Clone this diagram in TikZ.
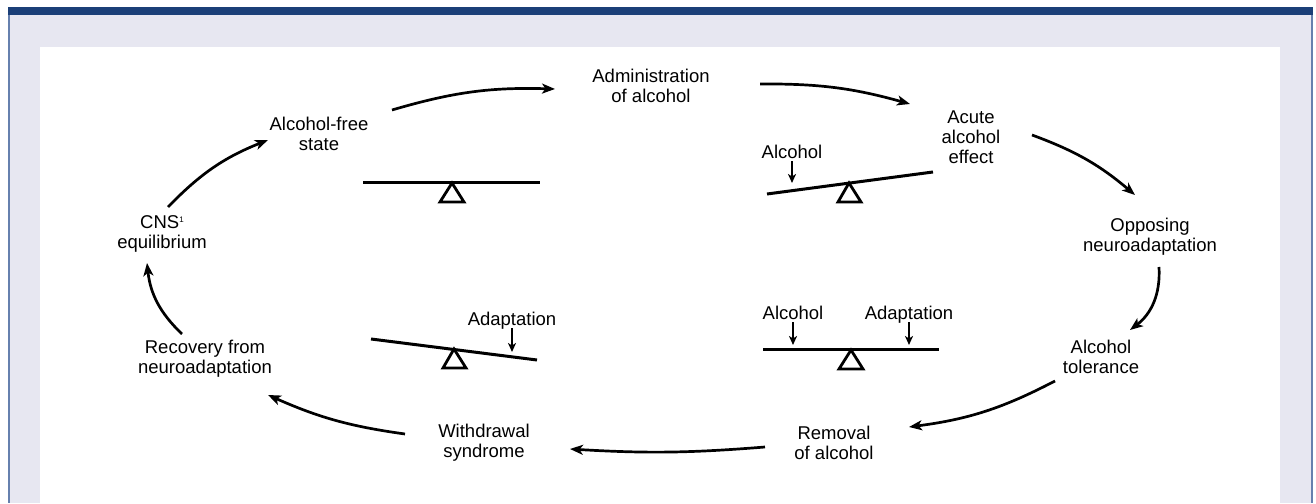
\documentclass[tikz,border=0pt]{standalone}
\usepackage{fontspec}
\setmainfont{Liberation Sans}
\usepackage{tikz}
\usetikzlibrary{arrows.meta, calc}

\definecolor{barblue}{HTML}{1B3F78}
\definecolor{edgeblue}{HTML}{6680AE}
\definecolor{panel}{HTML}{E7E7F1}

\begin{document}
\begin{tikzpicture}[x=10pt, y=10pt, font=\fontsize{18.5}{20}\selectfont]
        % Setup the styles for the texts, arrows and seesaws
        \tikzset{state text/.style={align=center,
                                    inner sep=2pt}}
        \tikzset{side label/.style={inner sep=2.5pt,
                                    text depth=0pt}}
        \tikzset{cycle arrow/.style={line width=2.7pt,
                                    -{Stealth[length=13pt, width=10pt, inset=3.5pt]}}}
        \tikzset{push arrow/.style={line width=2.4pt,
                                    -{Stealth[length=9pt, width=8pt, inset=2.5pt]}}}
        \tikzset{beam/.style={line width=3pt}}
        \tikzset{pivot/.style={line width=2.8pt,
                                    fill=white}}

        % Frame
        \useasboundingbox (0,0) rectangle (131.6,50.3);
        \fill[panel] (0.9,0) rectangle (131.1,48.8);
        \fill[white] (4.0,0) rectangle (128.0,45.6);
        \fill[barblue] (0.8,48.8) rectangle (131.3,49.6);
        \fill[edgeblue] (0.8,0) rectangle (0.95,48.8);
        \fill[edgeblue] (131.1,0) rectangle (131.3,48.8);

        % Draw the states
        \node[state text] at (31.9, 36.9) (free)     {Alcohol-free\\state};
        \node[state text] at (65.1, 41.7) (admin)    {Administration\\of alcohol};
        \node[state text] at (97.1, 36.6) (acute)    {Acute\\alcohol\\effect};
        \node[state text] at (115.0, 26.6) (oppose)  {Opposing\\neuroadaptation};
        \node[state text] at (110.1, 14.6) (tol)     {Alcohol\\tolerance};
        \node[state text] at (83.4, 6.0) (removal)   {Removal\\of alcohol};
        \node[state text] at (48.4, 6.0) (withdraw)  {Withdrawal\\syndrome};
        \node[state text] at (20.5, 14.4) (recovery) {Recovery from\\neuroadaptation};
        \node[state text] at (16.2, 26.9) (cns)      {CNS\raisebox{6pt}{\fontsize{8}{8}\selectfont 1}\\equilibrium};

        % Connect the states with arrows
        \draw[cycle arrow] ($(free)+(7.3,2.4)$)      to[bend left=9]  ($(admin)+(-9.6,-0.3)$);
        \draw[cycle arrow] ($(admin)+(10.9,0.2)$)    to[bend left=8]  ($(acute)+(-6.1,3.3)$);
        \draw[cycle arrow] ($(acute)+(6.1,0.2)$)     to[bend left=10] ($(oppose)+(-1.5,4.2)$);
        \draw[cycle arrow] ($(oppose)+(0.9,-3.0)$)   to[bend left=28] ($(tol)+(2.9,2.7)$);
        \draw[cycle arrow] ($(tol)+(-4.6,-2.4)$)     to[bend left=10] ($(removal)+(7.5,1.6)$);
        \draw[cycle arrow] ($(removal)+(-6.9,-0.4)$) to[bend left=4]  ($(withdraw)+(8.6,-0.6)$);
        \draw[cycle arrow] ($(withdraw)+(-7.9,0.9)$) to[bend left=8]  ($(recovery)+(6.3,-3.6)$);
        \draw[cycle arrow] ($(recovery)+(-2.3,2.5)$) to[bend left=20] ($(cns)+(-1.5,-2.9)$);
        \draw[cycle arrow] ($(cns)+(0.6,2.7)$)       to[bend left=12] ($(free)+(-5.1,-0.6)$);

        % Seesaw, balanced
        \draw[pivot] (45.2,32.0) -- (44.0,30.1) -- (46.4,30.1) -- cycle;
        \draw[beam] (36.3,32.0) -- (54.0,32.0);

        % Seesaw, alcohol only
        \draw[pivot] (84.9,32.0) -- (83.8,30.1) -- (86.1,30.1) -- cycle;
        \draw[beam] (76.7,30.9) -- (93.3,33.1);
        \node[side label] at (79.2,35.1) (alcA) {Alcohol};
        \coordinate (hitA) at (79.2,32.0);
        \draw[push arrow] (alcA) -- (hitA);

        % Seesaw, adaptation only
        \draw[pivot] (45.4,15.4) -- (44.3,13.5) -- (46.6,13.5) -- cycle;
        \draw[beam] (37.1,16.4) -- (53.7,14.3);
        \node[side label] at (51.2,18.4) (adaB) {Adaptation};
        \coordinate (hitB) at (51.2,15.1);
        \draw[push arrow] (adaB) -- (hitB);

        % Seesaw, both
        \draw[pivot] (85.1,15.3) -- (83.9,13.4) -- (86.3,13.4) -- cycle;
        \draw[beam] (76.3,15.3) -- (93.9,15.3);
        \node[side label] at (79.3,19.0) (alcC) {Alcohol};
        \node[side label] at (90.9,19.0) (adaC) {Adaptation};
        \coordinate (hitC) at (79.3,15.8);
        \coordinate (hitD) at (90.9,15.8);
        \draw[push arrow] (alcC) -- (hitC);
        \draw[push arrow] (adaC) -- (hitD);
\end{tikzpicture}
\end{document}
